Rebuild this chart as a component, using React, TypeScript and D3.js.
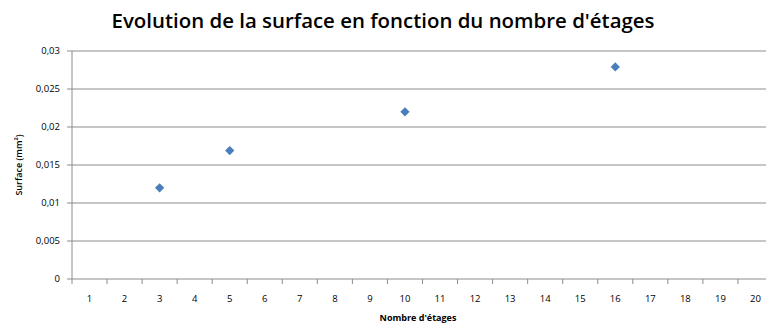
import * as d3 from "d3";

// categories on the x axis (1..20) and the measured points
const categories = ["1", "2", "3", "4", "5", "6", "7", "8", "9", "10", "11", "12", "13", "14", "15", "16", "17", "18", "19", "20"];
const etages = ["3", "5", "10", "16"];
const surfaces = [0.012, 0.0169, 0.022, 0.0279];
const yTicks = [0, 0.005, 0.01, 0.015, 0.02, 0.025, 0.03];

const W = 766;
const H = 330;
const left = 72;
const right = 773; // plot runs past the right edge, as in the source
const top = 51;
const bottom = 279;
const font = "Open Sans, sans-serif";

const fmt = (v: number) => (v === 0 ? "0" : String(v).replace(".", ","));

export default function App() {
  const x = d3.scaleBand().domain(categories).range([left, right]);
  const y = d3.scaleLinear().domain([0, 0.03]).range([bottom, top]);
  const diamond = d3.symbol().type(d3.symbolDiamond2).size(55)();

  const boundaries = categories.map((c) => x(c)!).concat([right]);

  return (
    <svg width={W} height={H} style={{ position: "absolute", left: 0, top: 0, background: "#fff" }}>
      <text x={383} y={28} textAnchor="middle" fontFamily={font} fontSize={19} fontWeight={600} fill="#000" textLength={543} lengthAdjust="spacingAndGlyphs">
        Evolution de la surface en fonction du nombre d'étages
      </text>

      {/* horizontal gridlines + y ticks */}
      {yTicks.map((t) => (
        <g key={t}>
          {t > 0 && <line x1={left} x2={right} y1={y(t)} y2={y(t)} stroke="#8c8c8c" strokeWidth={1} />}
          <line x1={left - 5} x2={left} y1={y(t)} y2={y(t)} stroke="#8c8c8c" />
          <text x={left - 12} y={y(t)} dy="0.35em" textAnchor="end" fontFamily={font} fontSize={9.5} fill="#000">
            {fmt(t)}
          </text>
        </g>
      ))}

      {/* axes */}
      <line x1={left} x2={left} y1={top} y2={bottom} stroke="#8c8c8c" />
      <line x1={left} x2={right} y1={bottom} y2={bottom} stroke="#8c8c8c" />
      {boundaries.map((b, i) => (
        <line key={i} x1={b} x2={b} y1={bottom} y2={bottom + 5} stroke="#8c8c8c" />
      ))}
      {categories.map((c) => (
        <text key={c} x={x(c)! + x.bandwidth() / 2} y={bottom + 20} dy="0.35em" textAnchor="middle" fontFamily={font} fontSize={9.5} fill="#000">
          {c}
        </text>
      ))}

      {/* axis titles */}
      <text transform={`translate(19,${(top + bottom) / 2}) rotate(-90)`} textAnchor="middle" dy="0.35em" fontFamily={font} fontSize={9} fontWeight={600} fill="#000">
        Surface (mm²)
      </text>
      <text x={418} y={318} textAnchor="middle" dy="0.35em" fontFamily={font} fontSize={9} fontWeight={700} fill="#000">
        Nombre d'étages
      </text>

      {/* points */}
      {etages.map((e, i) => (
        <path key={e} d={diamond!} transform={`translate(${x(e)! + x.bandwidth() / 2},${y(surfaces[i])})`} fill="#4a7ebb" />
      ))}
    </svg>
  );
}
